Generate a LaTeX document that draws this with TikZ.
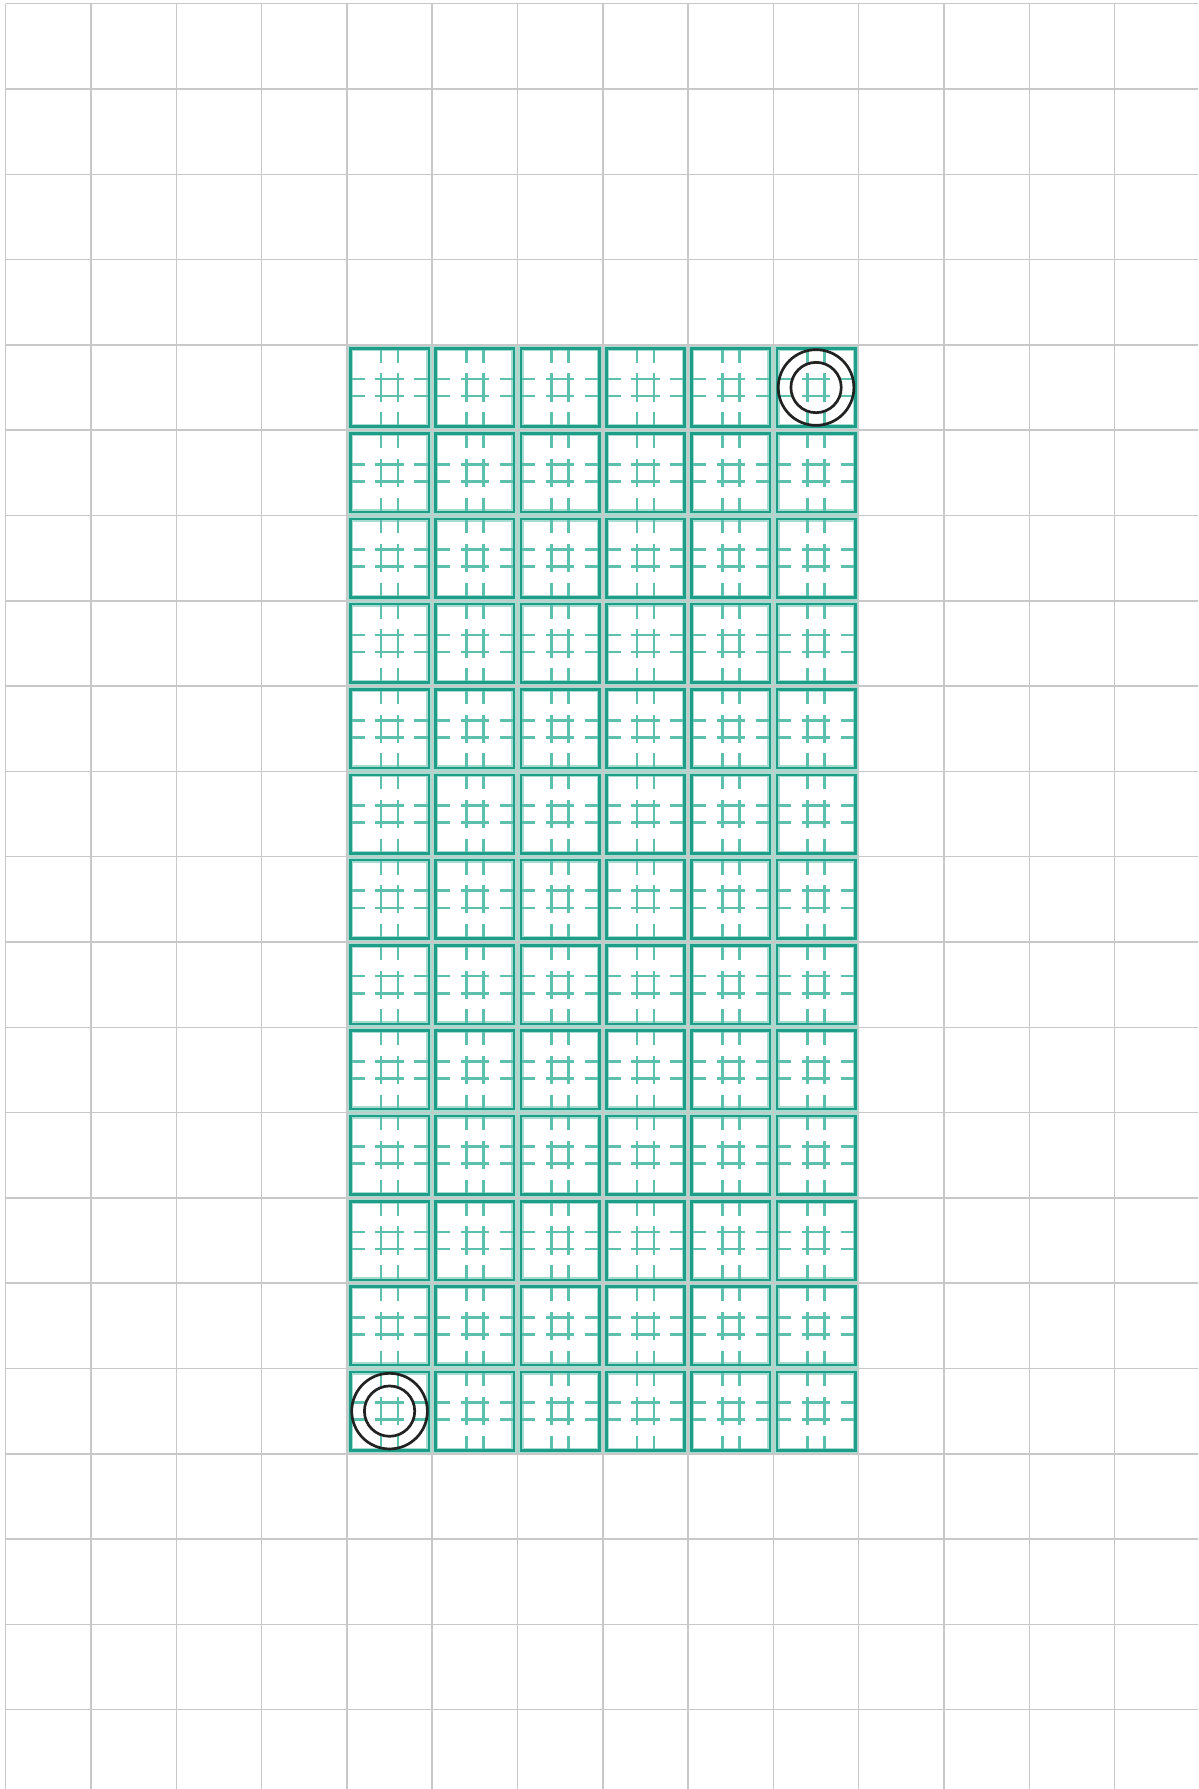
\documentclass[tikz,border=0pt]{standalone}
\definecolor{gridgray}{HTML}{C8C8C8}
\definecolor{tealD}{HTML}{1E9E88}
\definecolor{tealL}{HTML}{A6DCD0}
\definecolor{tealM}{HTML}{5CC0AC}
\definecolor{ringc}{HTML}{222222}
\tikzset{
  gridline/.style={gridgray, line width=0.5pt},
  tile/.style={rectangle, draw=tealD, line width=0.85pt, minimum size=0.92cm, inner sep=0pt,
    preaction={draw=tealL, line width=1.8pt},
    path picture={
      \begin{scope}[shift={(path picture bounding box.center)}, tealM, line width=0.9pt]
        \foreach \s in {-0.1,0.1}{
          \draw (\s,0.29) -- (\s,0.47);
          \draw (\s,-0.29) -- (\s,-0.47);
          \draw (-0.47,\s) -- (-0.29,\s);
          \draw (0.29,\s) -- (0.47,\s);
          \draw (\s,-0.165) -- (\s,0.165);
          \draw (-0.165,\s) -- (0.165,\s);
        }
      \end{scope}
    }},
  ring/.style={circle, draw=ringc, line width=0.9pt, inner sep=0pt}
}
\begin{document}
\begin{tikzpicture}[x=1cm,y=1cm]
\useasboundingbox (-0.067,0.043) rectangle (13.978,-20.93);
\clip (-0.067,0.043) rectangle (13.978,-20.93);
% background grid
\foreach \x in {0,...,13} \draw[gridline] (\x,0) -- (\x,-21.5);
\foreach \y in {0,...,20} \draw[gridline] (0,-\y) -- (14.5,-\y);
% tiles
\foreach \i in {4,...,9}{
  \foreach \j in {4,...,16}{
    \node[tile] (t\i-\j) at (\i+0.5,-\j-0.5) {};
  }
}
% rings
\node[ring, minimum size=0.887cm] (ringA) at (t9-4.center) {};
\node[ring, minimum size=0.59cm] (ringAi) at (t9-4.center) {};
\node[ring, minimum size=0.887cm] (ringB) at (t4-16.center) {};
\node[ring, minimum size=0.59cm] (ringBi) at (t4-16.center) {};
\end{tikzpicture}
\end{document}
